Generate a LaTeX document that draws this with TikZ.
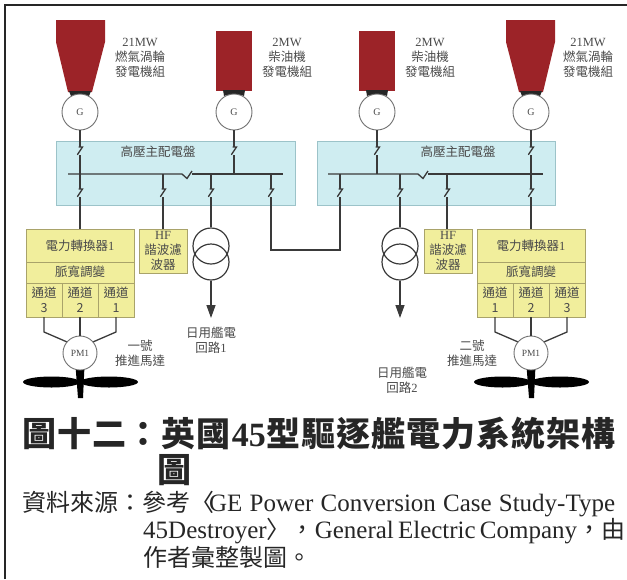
\documentclass[tikz,border=0pt]{standalone}
\usepackage{fontspec}
\setmainfont{Liberation Serif}
\newfontfamily\zh{Noto Sans CJK TC}
\usetikzlibrary{arrows.meta}
\definecolor{genred}{HTML}{9C2328}
\definecolor{swfill}{HTML}{CFEDF1}
\definecolor{swdraw}{HTML}{9CC3C9}
\definecolor{yfill}{HTML}{F1EE9C}
\definecolor{ydraw}{HTML}{A9A36A}
\definecolor{wirec}{HTML}{3A3A3A}
\definecolor{ring}{HTML}{707070}
\definecolor{lbl}{HTML}{4A4A4A}
\begin{document}
\begin{tikzpicture}[x=1pt,y=-1pt,
  wire/.style={draw=wirec, line width=1.3pt},
  gen/.style={circle, draw=ring, line width=0.9pt, fill=white, minimum size=36pt, inner sep=0pt, font=\fontsize{10}{10}\selectfont, text=lbl},
  panel/.style={draw=swdraw, fill=swfill, line width=0.8pt, inner sep=0pt},
  ybox/.style={draw=ydraw, fill=yfill, line width=0.9pt, inner sep=0pt},
  lab/.style={font=\zh\fontsize{12.5}{15}\selectfont, text=lbl, align=center, inner sep=0pt},
  trafo/.style={circle, draw=wirec, line width=1.2pt, minimum size=36pt, inner sep=0pt},
  pm/.style={circle, draw=ring, line width=0.9pt, fill=white, minimum size=34pt, inner sep=0pt, font=\fontsize{9.5}{10}\selectfont, text=lbl},
  brk/.pic={\fill[swfill] (-1.5,-4) rectangle (1.5,4); \draw[wire, line cap=round] (-1,-4) -- (2.5,-4) -- (-2.5,3.5);},
  capt/.style={anchor=base west, inner sep=0pt, text=black!85}
]
\useasboundingbox (0,0) rectangle (627,579);
% frame
\draw[line width=2pt, black!85] (5,579) -- (5,5) -- (627,5);

% generators
\fill[genred] (56,20) -- (105,20) -- (105,42) -- (92,92) -- (68,92) -- (56,42) -- cycle;
\fill[black!85] (69,91) -- (91,91) -- (89,96) .. controls (84,94) and (76,94) .. (71,96) -- cycle;
\fill[genred] (216,31) rectangle (252,91);
\fill[black!85] (223,90) -- (245,90) -- (244,96) .. controls (240,94) and (228,94) .. (224,96) -- cycle;
\fill[genred] (359,31) rectangle (395,91);
\fill[black!85] (366,90) -- (388,90) -- (387,96) .. controls (383,94) and (371,94) .. (367,96) -- cycle;
\fill[genred] (506,20) -- (555,20) -- (555,42) -- (543,92) -- (519,92) -- (506,42) -- cycle;
\fill[black!85] (520,91) -- (542,91) -- (540,96) .. controls (535,94) and (527,94) .. (522,96) -- cycle;

\node[lab] (tL1) at (140,58) {{\rmfamily 21MW}\\燃氣渦輪\\發電機組};
\node[lab] (tL2) at (287,58) {{\rmfamily 2MW}\\柴油機\\發電機組};
\node[lab] (tR2) at (430,58) {{\rmfamily 2MW}\\柴油機\\發電機組};
\node[lab] (tR1) at (588,58) {{\rmfamily 21MW}\\燃氣渦輪\\發電機組};

% switchboards
\node[panel, minimum width=239pt, minimum height=64pt] (swL) at (175.5,173) {};
\node[panel, minimum width=238pt, minimum height=64pt] (swR) at (436,173) {};
\node[lab] (swLt) at (158,152) {高壓主配電盤};
\node[lab] (swRt) at (458,152) {高壓主配電盤};

% generator circles
\node[gen] (gL1) at (80,112) {G};
\node[gen] (gL2) at (234,112) {G};
\node[gen] (gR2) at (377,112) {G};
\node[gen] (gR1) at (531,112) {G};

% bus coordinates
\coordinate (bL1) at (80,174);
\coordinate (bL2) at (234,174);
\coordinate (bL3) at (163,174);
\coordinate (bL4) at (211,174);
\coordinate (bL5) at (271,174);
\coordinate (bR1) at (531,174);
\coordinate (bR2) at (377,174);
\coordinate (bR3) at (447,174);
\coordinate (bR4) at (400,174);
\coordinate (bR5) at (340,174);
\coordinate (tieA) at (271,250);
\coordinate (tieB) at (340,250);

% buses with bus-tie breakers
\draw[wire] (68,174) -- (182,174) -- (187,178.5) -- (192,171);
\draw[wire] (192,174) -- (283,174);
\draw[wire] (328,174) -- (418,174) -- (423,178.5) -- (428,171);
\draw[wire] (428,174) -- (543,174);

% generator feeders
\draw[wire] (gL1.south) -- (bL1);
\draw[wire] (gL2.south) -- (bL2);
\draw[wire] (gR2.south) -- (bR2);
\draw[wire] (gR1.south) -- (bR1);
\pic at (80,151) {brk};
\pic at (234,151) {brk};
\pic at (377,151) {brk};
\pic at (531,151) {brk};

% equipment
\node[ybox, minimum width=108pt, minimum height=88pt] (cvL) at (80,273) {};
\node[ybox, minimum width=108pt, minimum height=88pt] (cvR) at (531,273) {};
\draw[draw=ydraw, line width=0.9pt] (26,262) -- (134,262) (26,283) -- (134,283) (62,283) -- (62,317) (98,283) -- (98,317);
\draw[draw=ydraw, line width=0.9pt] (477,262) -- (585,262) (477,283) -- (585,283) (513,283) -- (513,317) (549,283) -- (549,317);
\node[lab] (cvLa) at (80,246) {電力轉換器{\rmfamily 1}};
\node[lab] (cvLb) at (80,272) {脈寬調變};
\node[lab] (cvL3) at (44,300) {通道\\3};
\node[lab] (cvL2) at (80,300) {通道\\2};
\node[lab] (cvL1) at (116,300) {通道\\1};
\node[lab] (cvRa) at (531,246) {電力轉換器{\rmfamily 1}};
\node[lab] (cvRb) at (531,272) {脈寬調變};
\node[lab] (cvR1) at (495,300) {通道\\1};
\node[lab] (cvR2) at (531,300) {通道\\2};
\node[lab] (cvR3) at (567,300) {通道\\3};

\node[ybox, lab, minimum width=48pt, minimum height=44pt] (hfL) at (163,251) {{\rmfamily HF}\\諧波濾\\波器};
\node[ybox, lab, minimum width=48pt, minimum height=44pt] (hfR) at (448,251) {{\rmfamily HF}\\諧波濾\\波器};

\node[trafo] (trL1) at (211,246) {};
\node[trafo] (trL2) at (211,262) {};
\node[trafo] (trR1) at (400,246) {};
\node[trafo] (trR2) at (400,262) {};
\coordinate (aL) at (211,318);
\coordinate (aR) at (400,318);

% feeders below bus
\draw[wire] (bL1) -- (cvL.north);
\draw[wire] (bL3) -- (hfL.north);
\draw[wire] (bL4) -- (trL1.north);
\draw[wire] (bL5) -- (tieA) -- (tieB) -- (bR5);
\draw[wire] (bR4) -- (trR1.north);
\draw[wire] (bR3) -- (447,229);
\draw[wire] (bR1) -- (cvR.north);
\pic at (80,193) {brk};
\pic at (163,193) {brk};
\pic at (211,193) {brk};
\pic at (271,193) {brk};
\pic at (340,193) {brk};
\pic at (400,193) {brk};
\pic at (447,193) {brk};
\pic at (531,193) {brk};

\draw[wire, -{Triangle[length=13pt, width=9pt]}] (trL2.south) -- (aL);
\draw[wire, -{Triangle[length=13pt, width=9pt]}] (trR2.south) -- (aR);
\node[lab] (dL) at (211,340) {日用艦電\\回路{\rmfamily 1}};
\node[lab] (dR) at (402,380) {日用艦電\\回路{\rmfamily 2}};

% propellers
\fill[black] (75.5,366) -- (84.5,366) -- (83,398) -- (78,398) -- cycle;
\fill[black] (51.5,382) ellipse [x radius=28.5pt, y radius=5.5pt];
\fill[black] (109,382) ellipse [x radius=29pt, y radius=5.5pt];
\fill[black] (526.5,366) -- (535.5,366) -- (534,398) -- (529,398) -- cycle;
\fill[black] (502.5,382) ellipse [x radius=28.5pt, y radius=5.5pt];
\fill[black] (560,382) ellipse [x radius=29pt, y radius=5.5pt];

% motors
\node[pm] (pmL) at (80,353) {PM1};
\node[pm] (pmR) at (531,353) {PM1};
\coordinate (mL3) at (44,317);
\coordinate (mL1) at (116,317);
\coordinate (mR1) at (495,317);
\coordinate (mR3) at (567,317);
\draw[wire] (mL3) -- (44,332) -- (pmL.140);
\draw[wire] (cvL.south) -- (pmL.north);
\draw[wire] (mL1) -- (116,332) -- (pmL.40);
\draw[wire] (mR1) -- (495,332) -- (pmR.140);
\draw[wire] (cvR.south) -- (pmR.north);
\draw[wire] (mR3) -- (567,332) -- (pmR.40);
\node[lab] (mtL) at (140,353) {一號\\推進馬達};
\node[lab] (mtR) at (472,353) {二號\\推進馬達};

% caption
\node[capt, font=\zh\bfseries\fontsize{34}{34}\selectfont] (cap1) at (22,446)
  {\makebox[593pt][l]{圖\hfill 十\hfill 二\hfill ：\hfill 英\hfill 國\hfill{\rmfamily\bfseries 45}\hfill 型\hfill 驅\hfill 逐\hfill 艦\hfill 電\hfill 力\hfill 系\hfill 統\hfill 架\hfill 構}};
\node[capt, font=\zh\bfseries\fontsize{34}{34}\selectfont] (cap2) at (157,482) {圖};
\node[capt, font=\fontsize{25}{25}\selectfont] (src1) at (22,511)
  {\makebox[593pt][s]{{\zh\fontsize{24}{24}\selectfont 資料來源：參考〈}\hspace{-5pt}GE Power Conversion Case Study-Type}};
\node[capt, font=\fontsize{25}{25}\selectfont] (src2) at (143,538)
  {\makebox[472pt][s]{45Destroyer{\zh\fontsize{24}{24}\selectfont 〉，}General Electric Company{\zh\fontsize{24}{24}\selectfont ，由}}};
\node[capt, font=\zh\fontsize{24}{24}\selectfont] (src3) at (143,566) {作者彙整製圖。};
\end{tikzpicture}
\end{document}
